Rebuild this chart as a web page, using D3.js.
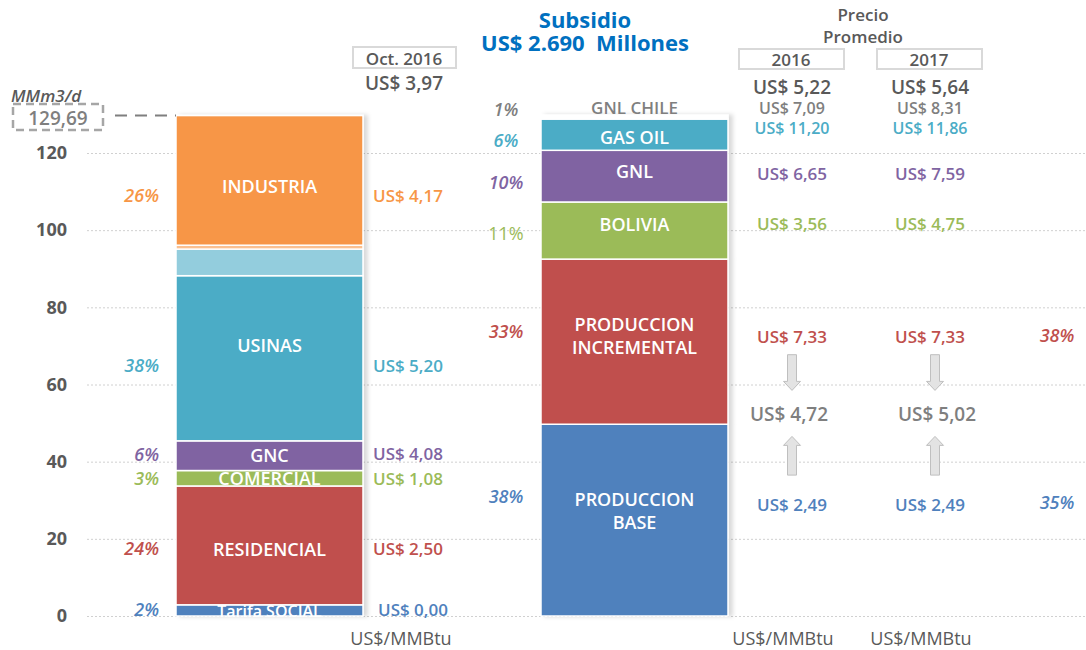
<!DOCTYPE html>
<html lang="es">
<head>
<meta charset="UTF-8">
<title>Subsidio gas</title>
<style>
  body { margin: 0; background: #fff; }
  svg { font-family: "Open Sans", "Noto Sans", sans-serif; }
</style>
</head>
<body>
<svg id="cont" width="1086" height="650"></svg>
<script src="https://cdn.jsdelivr.net/npm/d3@7/dist/d3.min.js"></script>
<script>
// ---- data ----
const yTicks = [0, 20, 40, 60, 80, 100, 120];
const totalDemand = 129.69;
const totalLabel = "129,69";

// demanda (Oct. 2016), bottom to top
const leftCats   = ["Tarifa SOCIAL", "RESIDENCIAL", "COMERCIAL", "GNC", "USINAS", "USINAS 2", "INDUSTRIA 2", "INDUSTRIA"];
const leftValues = [2.9, 30.8, 4.0, 7.7, 42.8, 6.9, 1.0, 33.6];
const leftPct    = ["2%", "24%", "3%", "6%", "38%", "", "", "26%"];
const leftPrice  = ["US$ 0,00", "US$ 2,50", "US$ 1,08", "US$ 4,08", "US$ 5,20", "", "", "US$ 4,17"];
const leftShow   = [true, true, true, true, true, false, false, true];

// oferta, bottom to top
const rightCats   = ["PRODUCCION BASE", "PRODUCCION INCREMENTAL", "BOLIVIA", "GNL", "GAS OIL", "GNL CHILE"];
const rightValues = [49.7, 42.8, 14.8, 13.4, 8.1, 1.0];
const rightPct    = ["38%", "33%", "11%", "10%", "6%", "1%"];
const price2016   = ["US$ 2,49", "US$ 7,33", "US$ 3,56", "US$ 6,65", "US$ 11,20", "US$ 7,09"];
const price2017   = ["US$ 2,49", "US$ 7,33", "US$ 4,75", "US$ 7,59", "US$ 11,86", "US$ 8,31"];
const share2017   = ["35%", "38%", "", "", "", ""];

const octPrice = "US$ 3,97";
const avgYears = ["2016", "2017"];
const avgPrice = ["US$ 5,22", "US$ 5,64"];
const mixPrice = ["US$ 4,72", "US$ 5,02"];

// ---- styles ----
const leftColors  = ["#4F81BD", "#C0504D", "#9BBB59", "#8064A2", "#4BACC6", "#93CDDD", "#FAC090", "#F79646"];
const leftText    = ["#4F81BD", "#C0504D", "#9BBB59", "#8064A2", "#4BACC6", "#4BACC6", "#F79646", "#F79646"];
const rightColors = ["#4F81BD", "#C0504D", "#9BBB59", "#8064A2", "#4BACC6", "#ffffff"];
const rightText   = ["#4F81BD", "#C0504D", "#9BBB59", "#8064A2", "#4BACC6", "#7F7F7F"];
const grayDark = "#595959", grayMid = "#7F7F7F";
const BOLD = 600;

// label nudges (px) relative to segment middle
const lInNudge   = [1, 4, 0, -1, -13, 0, 0, 6];
const lSideNudge = [-1, 3, 0, -2, 7, 0, 0, 15];
const rInNudge   = [-9.5, -6.5, -7, -5.5, 2, -9.5];
const rPctNudge  = [-24, -11, 2, 5.5, 5, -8.5];
const pNudge     = [-16, -5, -7, -2.5, -7, -9];

const svg = d3.select("#cont");

const y = d3.scaleLinear().domain([0, 120]).range([616, 153]);
const x = d3.scaleBand().domain(["demanda", "oferta"]).range([176, 728]).paddingInner(0.4877);
const xCols = d3.scalePoint().domain(avgYears).range([792, 930]);

// shadow
const defs = svg.append("defs");
defs.append("filter").attr("id", "sh").attr("x", "-10%").attr("width", "130%")
  .append("feDropShadow").attr("dx", 4).attr("dy", 0).attr("stdDeviation", 2)
  .attr("flood-color", "#000").attr("flood-opacity", 0.15);

// grid / axis
const yAxis = d3.axisLeft(y).tickValues(yTicks).tickSize(-(1086 - 87)).tickPadding(20);
const ga = svg.append("g").attr("transform", "translate(87,0)").call(yAxis);
ga.select(".domain").remove();
ga.selectAll(".tick line").attr("stroke", "#d0d0d0").attr("stroke-dasharray", "2,2");
ga.selectAll(".tick text").attr("fill", grayDark).attr("font-size", 18).attr("font-weight", 700)
  .attr("font-family", "'Open Sans', sans-serif");

function stack(values) {
  let acc = 0;
  return values.map(v => { const s = acc; acc += v; return [s, acc]; });
}
const leftStack = stack(leftValues);
const rightStack = stack(rightValues);

function drawBar(key, cats, st, colors) {
  const g = svg.append("g").attr("filter", "url(#sh)");
  g.selectAll("rect").data(cats).enter().append("rect")
    .attr("x", x(key))
    .attr("width", x.bandwidth())
    .attr("y", (d, i) => y(st[i][1]))
    .attr("height", (d, i) => y(st[i][0]) - y(st[i][1]))
    .attr("fill", (d, i) => colors[i])
    .attr("stroke", "#fff").attr("stroke-width", 1.5);
}
drawBar("demanda", leftCats, leftStack, leftColors);
drawBar("oferta", rightCats, rightStack, rightColors);

const mid = (st, i) => (y(st[i][0]) + y(st[i][1])) / 2;

function txt(xp, yp, s, o) {
  o = o || {};
  return svg.append("text").attr("x", xp).attr("y", yp).text(s)
    .attr("text-anchor", o.anchor || "middle")
    .attr("dominant-baseline", "central")
    .attr("fill", o.fill || grayDark)
    .attr("font-size", o.size || 16)
    .attr("font-weight", o.weight || BOLD)
    .attr("font-style", o.italic ? "italic" : "normal");
}
// two-line text in one element
function txt2(xp, yp, lines, gap, o) {
  const t = txt(xp, yp, "", o);
  lines.forEach((w, k) => t.append("tspan").attr("x", xp).attr("y", yp + k * gap).text(w));
  return t;
}

// left bar labels
const lcx = x("demanda") + x.bandwidth() / 2;
leftCats.forEach((c, i) => {
  if (!leftShow[i]) return;
  const m = mid(leftStack, i);
  txt(lcx, m + lInNudge[i], c, { fill: "#fff", size: i === 0 ? 16 : 18 });
  txt(159, m + lSideNudge[i], leftPct[i], { anchor: "end", fill: leftText[i], italic: true, size: 18 });
  txt(i === 0 ? 378 : 373, m + lSideNudge[i], leftPrice[i], { anchor: "start", fill: leftText[i], size: 17 });
});

// right bar labels
const rcx = x("oferta") + x.bandwidth() / 2;
rightCats.forEach((c, i) => {
  const m = mid(rightStack, i);
  const o = { fill: i === 5 ? grayMid : "#fff", size: i === 5 ? 17 : 18 };
  if (c.startsWith("PRODUCCION")) {
    txt2(rcx, m + rInNudge[i] - 11.5, c.split(" "), 23, o);
  } else txt(rcx, m + rInNudge[i], c, o);
  txt(506, m + rPctNudge[i], rightPct[i], { anchor: "middle", fill: rightText[i], italic: i !== 2, weight: i === 2 ? 400 : BOLD, size: 18 });
  const ps = i >= 4 ? 16 : 17;
  txt(xCols("2016"), m + pNudge[i], price2016[i], { fill: rightText[i], size: ps });
  txt(xCols("2017"), m + pNudge[i], price2017[i], { fill: rightText[i], size: ps });
  if (share2017[i]) txt(1057, m + pNudge[i] - 2, share2017[i], { fill: rightText[i], italic: true, size: 18 });
});

// mix price + arrows
function arrow(cx, y0, y1) {
  // from y0 to y1 (head at y1)
  const dir = y1 > y0 ? 1 : -1, sw = 4.5, hw = 8.5, hl = 9;
  const yh = y1 - dir * hl;
  const p = d3.path();
  p.moveTo(cx - sw, y0); p.lineTo(cx - sw, yh); p.lineTo(cx - hw, yh); p.lineTo(cx, y1);
  p.lineTo(cx + hw, yh); p.lineTo(cx + sw, yh); p.lineTo(cx + sw, y0); p.closePath();
  svg.append("path").attr("d", p.toString()).attr("fill", "#e3e3e3").attr("stroke", "#bfbfbf").attr("stroke-width", 1);
}
avgYears.forEach((yr, k) => {
  const cx = xCols(yr);
  const yInc = mid(rightStack, 1) + pNudge[1];
  const yBase = mid(rightStack, 0) + pNudge[0];
  const ym = (yInc + yBase) / 2 - 6;
  txt(cx + (k === 0 ? -3 : 7), ym, mixPrice[k], { fill: grayMid, size: 19, weight: 600 });
  arrow(cx + (k === 1 ? 5 : 0), yInc + 18, ym - 24);
  arrow(cx + (k === 1 ? 5 : 0), yBase - 29, ym + 22);
  // header boxes
  svg.append("rect").attr("x", cx - 53).attr("y", 49).attr("width", 105).attr("height", 20)
    .attr("fill", "#fff").attr("stroke", "#d9d9d9").attr("stroke-width", 2);
  txt(cx - 1, 59, yr, { fill: grayDark, size: 17 });
  txt(cx, 87, avgPrice[k], { fill: grayDark, size: 19 });
  txt(cx - 9, 638, "US$/MMBtu", { fill: grayDark, size: 18, weight: 400 });
});

// titles
txt2(585, 19, ["Subsidio", "US$\u00a02.690\u00a0\u00a0Millones"], 23, { fill: "#0070C0", size: 22, weight: 700 });
txt2(863, 14, ["Precio", "Promedio"], 22, { fill: grayDark, size: 17 });

// Oct. 2016 header
svg.append("rect").attr("x", 353).attr("y", 47).attr("width", 103).attr("height", 21)
  .attr("fill", "#fff").attr("stroke", "#d9d9d9").attr("stroke-width", 2);
txt(404, 58, "Oct. 2016", { fill: grayDark, size: 17 });
txt(404, 83, octPrice, { fill: grayDark, size: 19 });
txt(401, 638, "US$/MMBtu", { fill: grayDark, size: 18, weight: 400 });

// total
txt(11, 95, "MMm3/d", { anchor: "start", fill: grayDark, italic: true, size: 17 });
svg.append("rect").attr("x", 13).attr("y", 104).attr("width", 90).attr("height", 26)
  .attr("fill", "none").attr("stroke", "#a6a6a6").attr("stroke-width", 2.5).attr("stroke-dasharray", "8,5");
txt(58, 118, totalLabel, { fill: grayMid, size: 19, weight: 600 });
svg.append("line").attr("x1", 115).attr("x2", x("demanda")).attr("y1", y(totalDemand)).attr("y2", y(totalDemand))
  .attr("stroke", "#7f7f7f").attr("stroke-width", 2).attr("stroke-dasharray", "12,8");
</script>
</body>
</html>
